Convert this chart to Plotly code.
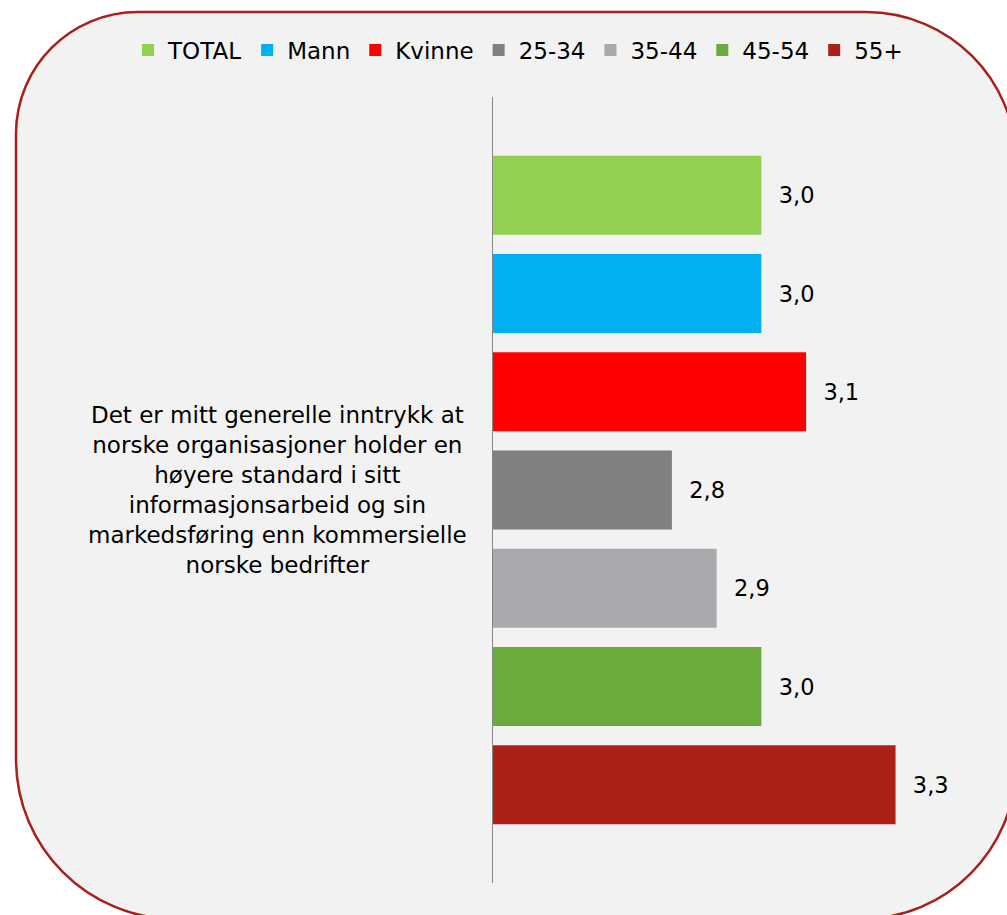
import plotly.graph_objects as go

# ---- data ----
category = "Det er mitt generelle inntrykk at norske organisasjoner holder en høyere standard i sitt informasjonsarbeid og sin markedsføring enn kommersielle norske bedrifter"
category_label = ("Det er mitt generelle inntrykk at<br>norske organisasjoner holder en<br>"
                  "høyere standard i sitt<br>informasjonsarbeid og sin<br>"
                  "markedsføring enn kommersielle<br>norske bedrifter")
series_names = ["TOTAL", "Mann", "Kvinne", "25-34", "35-44", "45-54", "55+"]
series_values = [3.0, 3.0, 3.1, 2.8, 2.9, 3.0, 3.3]
series_colors = ["#92D050", "#00B0F0", "#FF0000", "#808080", "#A9AAAD", "#6AAB3C", "#AB2118"]

W, H = 1007, 915
ML, MR, MT, MB = 493, 22, 97, 32
PW, PH = W - ML - MR, H - MT - MB

def px(x):
    return (x - ML) / PW

def py(y):
    return (H - MB - y) / PH

FONT = "DejaVu Sans, Verdana, sans-serif"

fig = go.Figure()
for name, val, col in zip(series_names, series_values, series_colors):
    fig.add_trace(go.Bar(
        y=[category], x=[val], name=name, orientation="h",
        marker=dict(color=col, line=dict(width=0)),
        text=["\u00a0\u00a0" + f"{val:.1f}".replace(".", ",")],
        textposition="outside", cliponaxis=False,
        textfont=dict(family=FONT, size=22.5, color="#000000"),
        hoverinfo="x+name",
    ))

# rounded background panel
L, T, R, B = 16, 12, 1016, 919
rTL, rTR, rBR, rBL = 122, 150, 155, 160
k = 0.5523
def P(x, y):
    return f"{px(x):.5f},{py(y):.5f}"
path = (
    f"M {P(L, T + rTL)} "
    f"C {P(L, T + rTL - k*rTL)} {P(L + rTL - k*rTL, T)} {P(L + rTL, T)} "
    f"L {P(R - rTR, T)} "
    f"C {P(R - rTR + k*rTR, T)} {P(R, T + rTR - k*rTR)} {P(R, T + rTR)} "
    f"L {P(R, B - rBR)} "
    f"C {P(R, B - rBR + k*rBR)} {P(R - rBR + k*rBR, B)} {P(R - rBR, B)} "
    f"L {P(L + rBL, B)} "
    f"C {P(L + rBL - k*rBL, B)} {P(L, B - rBL + k*rBL)} {P(L, B - rBL)} Z"
)
fig.add_shape(type="path", path=path, xref="paper", yref="paper",
              fillcolor="#F2F2F2", line=dict(color="#A8201A", width=2.5), layer="below")

fig.add_annotation(text=category_label, x=px(277), y=0.5, xref="paper", yref="paper",
                   xanchor="center", yanchor="middle", align="center", showarrow=False,
                   font=dict(family=FONT, size=23, color="#000000"))

fig.update_layout(
    width=W, height=H,
    margin=dict(l=ML, r=MR, t=MT, b=MB, pad=0, autoexpand=False),
    paper_bgcolor="#FFFFFF", plot_bgcolor="rgba(0,0,0,0)",
    barmode="group", bargap=0.125, bargroupgap=0.195,
    showlegend=True,
    legend=dict(orientation="h", x=px(128), y=py(50), xanchor="left", yanchor="middle",
                font=dict(family=FONT, size=23, color="#000000"),
                bgcolor="rgba(0,0,0,0)", itemwidth=30, traceorder="normal"),
    xaxis=dict(range=[2.4, 3.5], showgrid=False, zeroline=False, showticklabels=False,
               ticks="", showline=False, fixedrange=True),
    yaxis=dict(autorange="reversed", showgrid=False, zeroline=False, showticklabels=False,
               ticks="", showline=True, linecolor="#868686", linewidth=1, fixedrange=True),
    font=dict(family=FONT),
)

fig.write_html("out.html", config={"displayModeBar": False},
               post_script="document.body.style.margin='0';document.body.style.overflow='hidden';")
